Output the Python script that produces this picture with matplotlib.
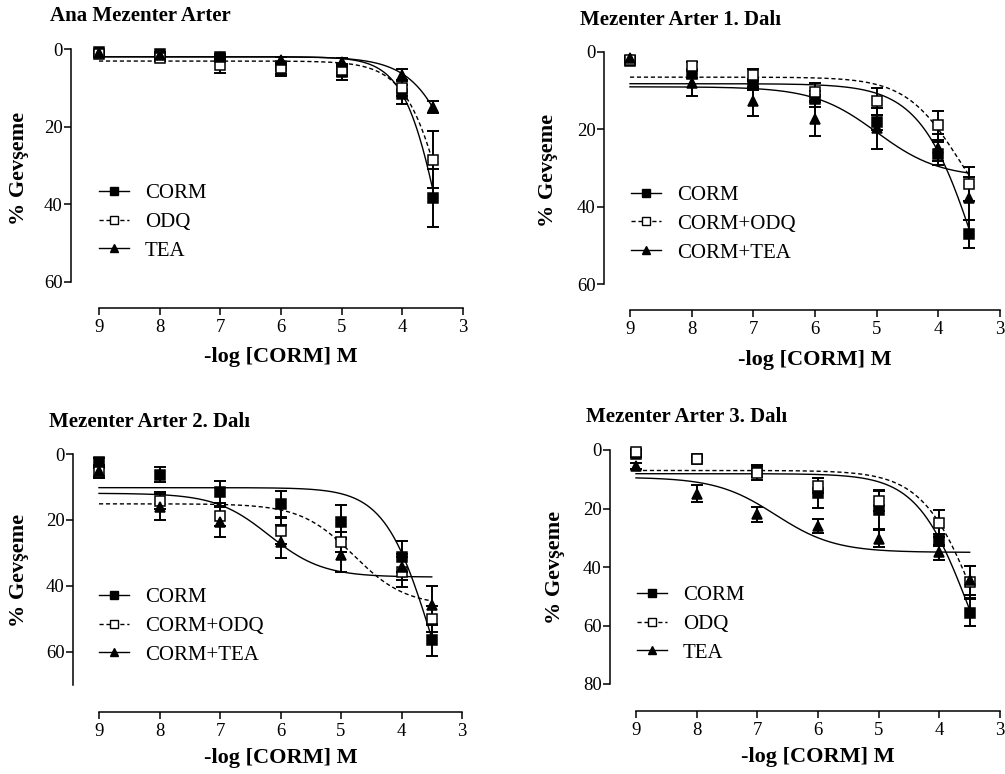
import numpy as np
import matplotlib
matplotlib.use("Agg")
import matplotlib.pyplot as plt
from matplotlib.lines import Line2D

plt.rcParams['font.family'] = ['Liberation Serif', 'DejaVu Serif']

W, H = 1005, 774

# log doz (-log M)
doses = [9, 8, 7, 6, 5, 4, 3.5]

# Ana Mezenter Arter
ana_corm = [0.9, 1.4, 2.0, 4.5, 6.0, 11.7, 38.4]
ana_corm_sem = [0.5, 0.5, 0.8, 2.5, 2.0, 2.5, 7.5]
ana_odq = [1.2, 2.4, 4.1, 5.0, 5.4, 10.1, 28.5]
ana_odq_sem = [0.5, 0.6, 2.0, 1.5, 1.5, 2.0, 7.3]
ana_tea = [1.0, 1.5, 2.0, 2.8, 3.3, 6.7, 15.0]
ana_tea_sem = [0.4, 0.5, 0.5, 0.8, 1.0, 1.5, 1.5]

# 1. dal
d1_corm = [2.2, 5.6, 8.4, 12.1, 18.2, 26.3, 47.0]
d1_corm_sem = [0.5, 1.0, 1.5, 2.0, 2.0, 3.0, 3.6]
d1_odq = [2.0, 3.7, 5.9, 10.4, 12.8, 19.0, 34.1]
d1_odq_sem = [0.5, 1.0, 1.5, 2.5, 3.5, 3.8, 4.4]
d1_tea = [1.6, 8.0, 12.8, 17.2, 19.7, 24.8, 37.8]
d1_tea_sem = [0.5, 3.3, 3.8, 4.6, 5.3, 3.5, 5.6]

# 2. dal
d2_corm = [2.5, 6.3, 11.6, 15.1, 20.5, 31.2, 56.5]
d2_corm_sem = [1.2, 2.3, 3.3, 4.0, 4.9, 4.7, 4.8]
d2_odq = [5.6, 14.1, 18.8, 23.4, 26.6, 35.7, 50.0]
d2_odq_sem = [1.5, 2.5, 3.0, 4.0, 3.0, 4.5, 4.0]
d2_tea = [5.3, 16.0, 20.5, 26.6, 30.7, 34.2, 45.7]
d2_tea_sem = [2.0, 4.0, 4.5, 5.0, 5.0, 4.0, 5.8]

# 3. dal
d3_corm = [1.4, 3.2, 7.1, 14.7, 20.6, 30.7, 55.6]
d3_corm_sem = [1.0, 0.8, 2.0, 5.0, 6.5, 2.0, 4.5]
d3_odq = [0.6, 3.0, 7.9, 12.2, 17.3, 25.1, 45.2]
d3_odq_sem = [0.8, 0.8, 2.5, 2.5, 3.5, 4.5, 5.5]
d3_tea = [5.4, 14.9, 22.0, 26.0, 30.3, 35.0, 44.6]
d3_tea_sem = [1.0, 3.0, 2.5, 2.3, 2.8, 2.5, 5.0]

# sigmoidal fit parametreleri: (baslangic, plato, pEC50, hill)
ana_fits = [(2.0, 100, 3.30, 1.37), (3.1, 100, 3.14, 1.22), (2.0, 100, 2.71, 1.03)]
d1_fits = [(8.2, 100, 3.33, 0.93), (6.5, 50, 3.65, 0.99), (9.0, 32.5, 5.0, 0.85)]
d2_fits = [(10.2, 100, 3.51, 1.13), (15.1, 46, 4.8, 1.0), (11.9, 37.3, 6.19, 0.98)]
d3_fits = [(8.1, 100, 3.51, 1.01), (7.0, 100, 3.36, 0.97), (9.3, 35, 6.70, 0.885)]

labels_ana = ["CORM", "ODQ", "TEA"]
labels_dal = ["CORM", "CORM+ODQ", "CORM+TEA"]

# seri stilleri: marker, dolgu, cizgi
styles = [('s', 'black', '-'), ('s', 'white', (0, (3, 2))), ('^', 'black', '-')]


def sigmoid(x, bas, plato, pec50, hill):
    return bas + (plato - bas) / (1 + 10 ** ((x - pec50) * hill))


def px_axes(fig, left, top, right, bottom):
    return fig.add_axes([left / W, 1 - bottom / H, (right - left) / W, (bottom - top) / H])


def panel(fig, rect, yspine_x, xspine_y, ymax, yticks, title, title_xy, ylab_xy, xlab_y,
          means, sems, fits, labels, leg_xy):
    left, top, right, bottom = rect
    ax = px_axes(fig, left, top, right, bottom)
    ax.set_xlim(9, 3)
    ax.set_ylim(ymax, 0)

    xs = np.linspace(9, 3.5, 300)
    for (m, fc, ls), mean, sem, fit in zip(styles, means, sems, fits):
        ax.plot(xs, sigmoid(xs, *fit), color='black', lw=1.0, ls=ls, clip_on=False, zorder=2)
        ax.errorbar(doses, mean, yerr=sem, fmt='none', ecolor='black', elinewidth=1.4,
                    capsize=4, capthick=1.4, clip_on=False, zorder=3)
        ax.plot(doses, mean, ls='none', marker=m, ms=7 if m == 's' else 7.5,
                mfc=fc, mec='black', mew=1.1, clip_on=False, zorder=4)

    for s in ['top', 'right']:
        ax.spines[s].set_visible(False)
    ax.spines['left'].set_position(('outward', (left - yspine_x) * 0.72))
    ax.spines['bottom'].set_position(('outward', (xspine_y - bottom) * 0.72))
    ax.spines['left'].set_bounds(0, ymax)
    ax.spines['bottom'].set_bounds(9, 3)
    for s in ['left', 'bottom']:
        ax.spines[s].set_linewidth(1.1)
    ax.set_xticks([9, 8, 7, 6, 5, 4, 3])
    ax.set_yticks(yticks)
    ax.tick_params(axis='both', direction='out', length=5, width=1.1, labelsize=13.5)
    ax.tick_params(axis='y', pad=1)
    ax.tick_params(axis='x', pad=3)

    fig.text(title_xy[0] / W, 1 - title_xy[1] / H, title, fontsize=15, fontweight='bold',
             ha='left', va='center')
    fig.text(ylab_xy[0] / W, 1 - ylab_xy[1] / H, "% Gevşeme", fontsize=16, fontweight='bold',
             rotation=90, ha='center', va='center')
    fig.text((left + right) / 2 / W, 1 - xlab_y / H, "-log [CORM] M", fontsize=16,
             fontweight='bold', ha='center', va='center')

    handles = [Line2D([], [], color='black', lw=1.0, ls=ls, marker=m, ms=6, mfc=fc,
                      mec='black', mew=1.0) for m, fc, ls in styles]
    ax.legend(handles, labels, loc='center left', frameon=False, fontsize=15,
              bbox_to_anchor=(leg_xy[0] / W, 1 - leg_xy[1] / H), bbox_transform=fig.transFigure,
              handlelength=1.45, handletextpad=0.75, labelspacing=0.45, borderpad=0,
              borderaxespad=0)
    return ax


fig = plt.figure(figsize=(W / 100, H / 100), dpi=100)

panel(fig, (99, 49, 463, 282), 71, 308, 60, [0, 20, 40, 60], "Ana Mezenter Arter",
      (50, 16), (19, 168), 357,
      [ana_corm, ana_odq, ana_tea], [ana_corm_sem, ana_odq_sem, ana_tea_sem],
      ana_fits, labels_ana, (99, 222))

panel(fig, (630, 52, 1000, 284), 604, 310, 60, [0, 20, 40, 60], "Mezenter Arter 1. Dalı",
      (580, 20), (548, 170), 360,
      [d1_corm, d1_odq, d1_tea], [d1_corm_sem, d1_odq_sem, d1_tea_sem],
      d1_fits, labels_dal, (631, 224))

panel(fig, (99, 454, 462, 685), 73, 712, 70, [0, 20, 40, 60], "Mezenter Arter 2. Dalı",
      (49, 422), (19, 570), 758,
      [d2_corm, d2_odq, d2_tea], [d2_corm_sem, d2_odq_sem, d2_tea_sem],
      d2_fits, labels_dal, (99, 626))

panel(fig, (636, 450, 1000, 684), 610, 711, 80, [0, 20, 40, 60, 80], "Mezenter Arter 3. Dalı",
      (586, 417), (555, 567), 757,
      [d3_corm, d3_odq, d3_tea], [d3_corm_sem, d3_odq_sem, d3_tea_sem],
      d3_fits, labels_ana, (637, 624))

fig.savefig("out.png", dpi=100)
